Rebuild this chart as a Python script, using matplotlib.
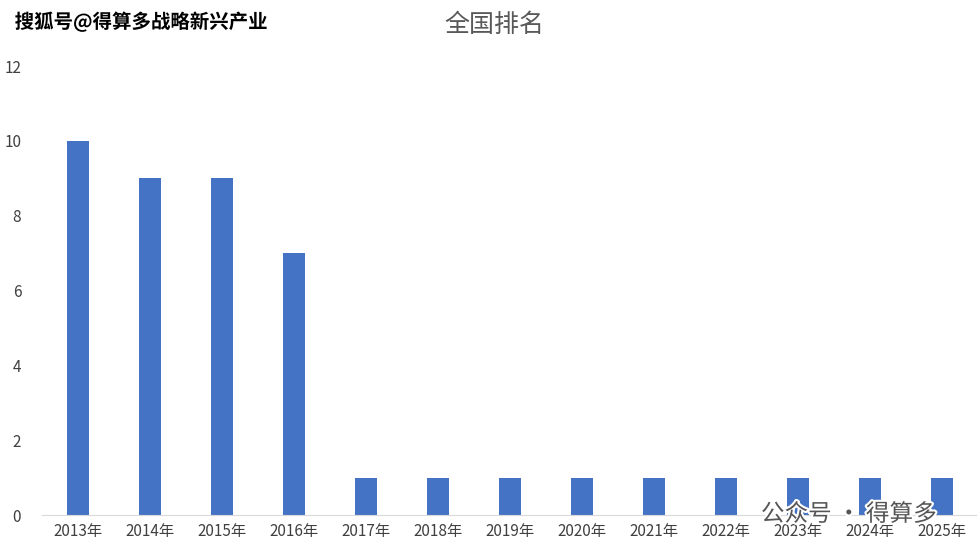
import matplotlib.pyplot as plt
import matplotlib.patheffects as pe

plt.rcParams['font.family'] = ['Noto Sans CJK SC', 'DejaVu Sans']

years = ['2013年', '2014年', '2015年', '2016年', '2017年', '2018年', '2019年',
         '2020年', '2021年', '2022年', '2023年', '2024年', '2025年']
rank = [10, 9, 9, 7, 1, 1, 1, 1, 1, 1, 1, 1, 1]

fig = plt.figure(figsize=(9.78, 5.52), dpi=100)
ax = fig.add_axes([42 / 978, 1 - 515 / 552, 936 / 978, 449 / 552])

ax.bar(range(len(years)), rank, width=0.31, color='#4472C4')
ax.set_xlim(-0.5, len(years) - 0.5)
ax.set_ylim(0, 12)
ax.set_yticks(range(0, 13, 2))
ax.set_xticks(range(len(years)))
ax.set_xticklabels(years, fontsize=11, color='#404040')
ax.tick_params(axis='y', labelsize=11, labelcolor='#404040', length=0, pad=15)
ax.tick_params(axis='x', length=0, pad=6)
for s in ['top', 'right', 'left']:
    ax.spines[s].set_visible(False)
ax.spines['bottom'].set_color('#D9D9D9')

fig.text(0.505, 0.955, '全国排名', ha='center', va='center', fontsize=18, color='#595959')
fig.text(0.015, 0.96, '搜狐号@得算多战略新兴产业', ha='left', va='center', fontsize=14,
         fontweight='bold', color='black',
         path_effects=[pe.withStroke(linewidth=3, foreground='white')])
fig.text(0.778, 0.068, '公众号 · 得算多', ha='left', va='center', fontsize=17, color='#555555',
         path_effects=[pe.withStroke(linewidth=3, foreground='white')])

fig.savefig('out.png')
